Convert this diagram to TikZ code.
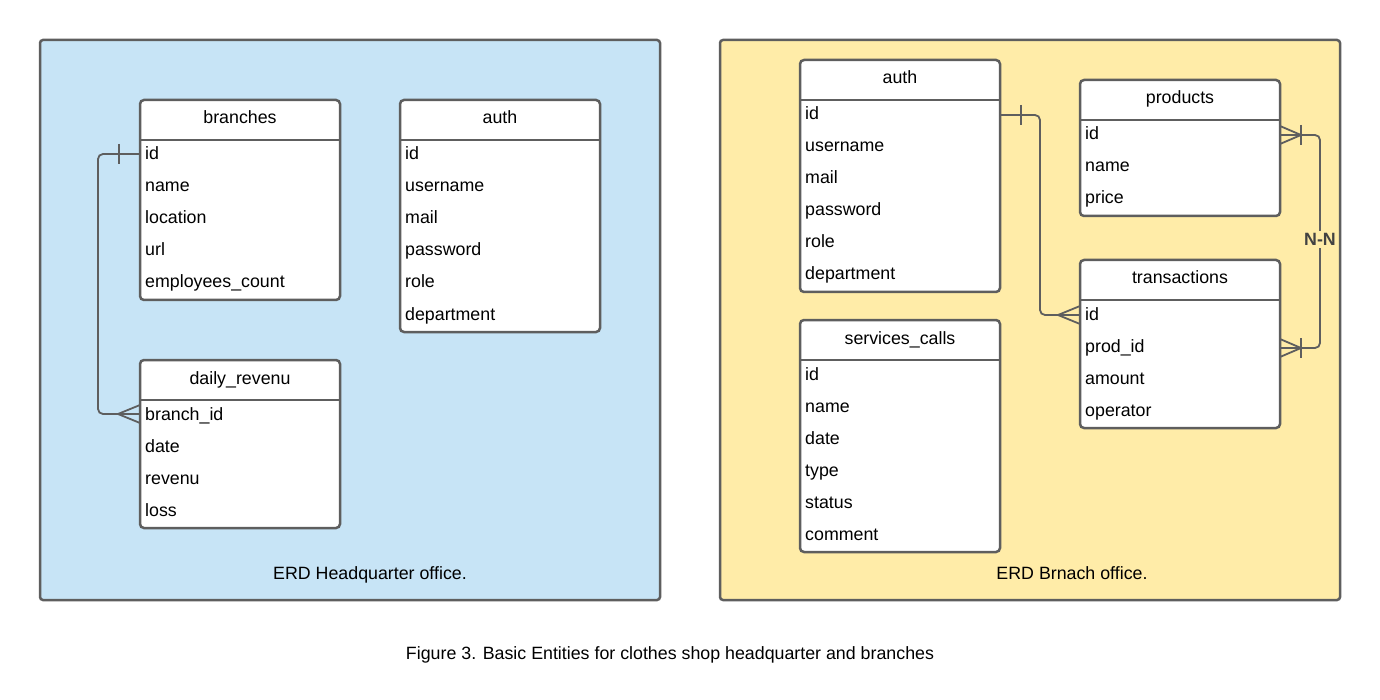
\documentclass[tikz,border=0pt]{standalone}
\usepackage{fontspec}
\setmainfont{Liberation Sans}
\usetikzlibrary{calc}
\definecolor{hqblue}{RGB}{199,228,246}
\definecolor{bryellow}{RGB}{255,236,168}
\definecolor{edgegray}{RGB}{94,94,94}
\tikzset{
  panel/.style={draw=edgegray, line width=2.5pt, rounded corners=3pt, inner sep=0pt, outer sep=0pt},
  tablebox/.style={draw=edgegray, fill=white, line width=2.5pt, rounded corners=4pt, inner sep=0pt, outer sep=0pt, minimum width=200pt},
  headline/.style={draw=edgegray, line width=2.5pt},
  field/.style={anchor=base west, inner sep=0pt},
  title/.style={anchor=base, inner sep=0pt},
  conn/.style={draw=edgegray, line width=1.8pt, rounded corners=5pt},
  erdmark/.style={draw=edgegray, line width=1.8pt},
}
\newcommand\erdtable[6]{%
  \node[tablebox, minimum height={40pt+32pt*#6}, anchor=north west] (#1) at (#2,#3) {};
  \draw[headline] (#2,#3+40) -- (#2+200,#3+40);
  \node[title] (#1-title) at (#2+100,#3+24) {#4};
  \foreach \f [count=\i] in {#5} {
    \node[field] (#1-\i) at (#2+5,#3+60+32*\i-32) {\f};
  }
}
\begin{document}
\begin{tikzpicture}[x=1pt,y=-1pt, font=\fontsize{17.8}{20}\selectfont]
\useasboundingbox[fill=white] (0,0) rectangle (1380,700);
\node[panel, fill=hqblue, minimum width=620pt, minimum height=560pt] (hq) at (350,320) {};
\node[panel, fill=bryellow, minimum width=620pt, minimum height=560pt] (br) at (1030,320) {};

\erdtable{branches}{140}{100}{branches}{id,name,location,url,employees\_count}{5}
\erdtable{hqauth}{400}{100}{auth}{id,username,mail,password,role,department}{6}
\erdtable{daily}{140}{360}{daily\_revenu}{branch\_id,date,revenu,loss}{4}
\erdtable{brauth}{800}{60}{auth}{id,username,mail,password,role,department}{6}
\erdtable{services}{800}{320}{services\_calls}{id,name,date,type,status,comment}{6}
\erdtable{products}{1080}{80}{products}{id,name,price}{3}
\erdtable{trans}{1080}{260}{transactions}{id,prod\_id,amount,operator}{4}

\node[anchor=base, inner sep=0pt] (hqlabel) at (370,579) {ERD Headquarter office.};
\node[anchor=base, inner sep=0pt] (brlabel) at (1072,579) {ERD Brnach office.};
\node[anchor=base, inner sep=0pt] (caption) at (670,659) {Figure 3. Basic Entities for clothes shop headquarter and branches};

% branches.id -> daily_revenu.branch_id
\coordinate (a1) at (branches.west |- 0,154);
\coordinate (a2) at (daily.west |- 0,414);
\draw[conn] (a1) -- ($(a1)+(-42,0)$) |- (a2);
\draw[erdmark] ($(a1)+(-21,-10)$) -- ($(a1)+(-21,10)$);
\draw[erdmark] ($(a2)+(0,-9)$) -- ($(a2)+(-22,0)$) -- ($(a2)+(0,9)$);

% auth.id -> transactions.id
\coordinate (b1) at (brauth.east |- 0,115);
\coordinate (b2) at (trans.west |- 0,315);
\draw[conn] (b1) -- ($(b1)+(40,0)$) |- (b2);
\draw[erdmark] ($(b1)+(21,-10)$) -- ($(b1)+(21,10)$);
\draw[erdmark] ($(b2)+(0,-9)$) -- ($(b2)+(-22,0)$) -- ($(b2)+(0,9)$);

% products.id <-> transactions.prod_id (N-N)
\coordinate (c1) at (products.east |- 0,135);
\coordinate (c2) at (trans.east |- 0,348);
\draw[conn] (c1) -- ($(c1)+(40,0)$) |- (c2);
\draw[erdmark] ($(c1)+(0,-9)$) -- ($(c1)+(21,0)$) -- ($(c1)+(0,9)$);
\draw[erdmark] ($(c1)+(21,-10)$) -- ($(c1)+(21,10)$);
\draw[erdmark] ($(c2)+(0,-9)$) -- ($(c2)+(21,0)$) -- ($(c2)+(0,9)$);
\draw[erdmark] ($(c2)+(21,-10)$) -- ($(c2)+(21,10)$);
\node[fill=bryellow, inner sep=2pt, font=\fontsize{17.8}{20}\selectfont\bfseries, text=edgegray!70!black] (nn) at ($(c1)!0.5!(c2)+(40,-2)$) {N-N};
\end{tikzpicture}
\end{document}
